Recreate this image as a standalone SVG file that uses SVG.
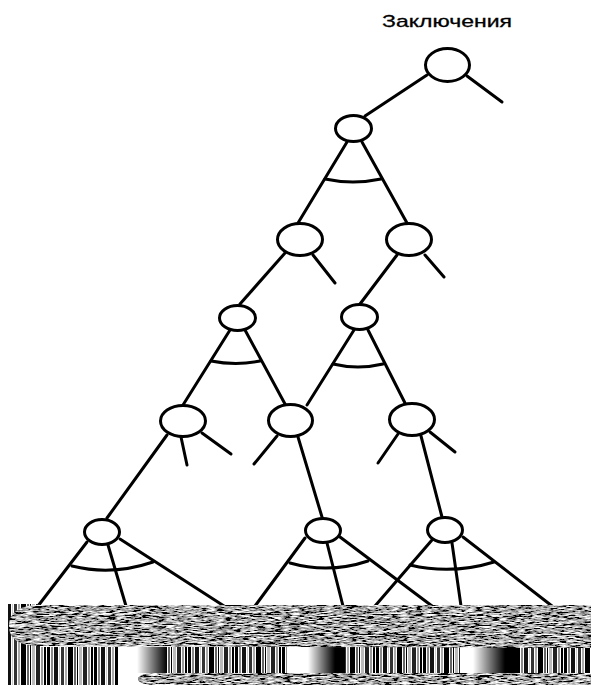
<svg xmlns="http://www.w3.org/2000/svg" width="591" height="685" viewBox="0 0 591 685">
<style>
.n{fill:#fff;stroke:#000;stroke-width:3}
.c line,.c path{stroke:#000;stroke-width:3;fill:none;stroke-linecap:round}
.t{font-family:"Liberation Sans",Arial,sans-serif;font-size:17px;fill:#000;stroke:#000;stroke-width:0.3}
</style>
<defs>
<filter id="noise" x="0" y="0" width="100%" height="100%" filterUnits="objectBoundingBox">
<feTurbulence type="fractalNoise" baseFrequency="0.12 1.1" numOctaves="3" seed="5" result="t"/>
<feColorMatrix in="t" type="matrix" values="0.33 0.33 0.33 0 0 0.33 0.33 0.33 0 0 0.33 0.33 0.33 0 0 0 0 0 0 1" result="g"/>
<feComponentTransfer in="g" result="k">
<feFuncR type="linear" slope="5" intercept="-2.1"/>
<feFuncG type="linear" slope="5" intercept="-2.1"/>
<feFuncB type="linear" slope="5" intercept="-2.1"/>
</feComponentTransfer>
<feComposite in="k" in2="SourceGraphic" operator="in"/>
</filter>
<pattern id="bars" patternUnits="userSpaceOnUse" width="47" height="40">
<rect width="47" height="40" fill="#fff"/>
<rect x="0" width="3" height="40" fill="#000"/>
<rect x="4" width="2" height="40" fill="#888"/>
<rect x="7" width="4" height="40" fill="#111"/>
<rect x="12" width="1" height="40" fill="#ccc"/>
<rect x="14" width="3" height="40" fill="#333"/>
<rect x="18" width="2" height="40" fill="#aaa"/>
<rect x="21" width="5" height="40" fill="#000"/>
<rect x="27" width="2" height="40" fill="#666"/>
<rect x="30" width="1" height="40" fill="#000"/>
<rect x="32" width="3" height="40" fill="#bbb"/>
<rect x="36" width="4" height="40" fill="#222"/>
<rect x="41" width="2" height="40" fill="#999"/>
<rect x="44" width="2" height="40" fill="#000"/>
</pattern>
<linearGradient id="wb" x1="0" x2="1" y1="0" y2="0">
<stop offset="0" stop-color="#fff"/>
<stop offset="1" stop-color="#000"/>
</linearGradient>
</defs>
<rect width="591" height="685" fill="#fff"/>
<text class="t" x="382" y="27" textLength="130" lengthAdjust="spacingAndGlyphs">Заключения</text>
<g class="c" id="connectors">
<line x1="427" y1="75" x2="365" y2="116"/>
<line x1="467" y1="76" x2="502" y2="102"/>
<line x1="347" y1="142" x2="298" y2="223"/>
<line x1="362" y1="142" x2="407" y2="223"/>
<path d="M325,179 Q353,185 381,179"/>
<line x1="285" y1="253" x2="240" y2="304"/>
<line x1="313" y1="255" x2="335" y2="283"/>
<line x1="397" y1="255" x2="360" y2="304"/>
<line x1="425" y1="255" x2="444" y2="277"/>
<line x1="230" y1="330" x2="183" y2="405"/>
<line x1="245" y1="330" x2="285" y2="404"/>
<path d="M211,361 Q236,366 260,361"/>
<line x1="354" y1="330" x2="307" y2="405"/>
<line x1="368" y1="330" x2="405" y2="403"/>
<path d="M333,364 Q358,370 383,364"/>
<line x1="167" y1="435" x2="107" y2="518"/>
<line x1="181" y1="437" x2="187" y2="465"/>
<line x1="202" y1="433" x2="231" y2="454"/>
<line x1="277" y1="436" x2="254" y2="464"/>
<line x1="298" y1="437" x2="322" y2="517"/>
<line x1="398" y1="434" x2="378" y2="463"/>
<line x1="421" y1="436" x2="442" y2="517"/>
<line x1="430" y1="432" x2="455" y2="452"/>
<line x1="87" y1="542" x2="38" y2="606"/>
<line x1="108" y1="545" x2="126" y2="606"/>
<line x1="120" y1="539" x2="224" y2="606"/>
<path d="M72,566 Q112,576 153,562"/>
<line x1="305" y1="538" x2="255" y2="606"/>
<line x1="327" y1="543" x2="343" y2="606"/>
<line x1="340" y1="537" x2="432" y2="606"/>
<path d="M290,563 Q329,574 368,561"/>
<line x1="432" y1="540" x2="375" y2="606"/>
<line x1="452" y1="543" x2="461" y2="606"/>
<line x1="463" y1="537" x2="552" y2="606"/>
<path d="M410,565 Q452,575 494,562"/>
</g>
<g id="n1"><ellipse class="n" cx="447.5" cy="65" rx="22" ry="16.5"/></g>
<g id="n2"><ellipse class="n" cx="353.5" cy="128.5" rx="18" ry="13"/></g>
<g id="n3a"><ellipse class="n" cx="300" cy="239.5" rx="22.5" ry="16"/></g>
<g id="n3b"><ellipse class="n" cx="409" cy="239.5" rx="22.5" ry="16"/></g>
<g id="n4a"><ellipse class="n" cx="237.5" cy="318" rx="18" ry="12.5"/></g>
<g id="n4b"><ellipse class="n" cx="359.5" cy="317" rx="18" ry="12.5"/></g>
<g id="n5a"><ellipse class="n" cx="183" cy="421" rx="22.5" ry="15.5"/></g>
<g id="n5b"><ellipse class="n" cx="290.5" cy="420.5" rx="22" ry="16"/></g>
<g id="n5c"><ellipse class="n" cx="412" cy="419.5" rx="22.5" ry="16"/></g>
<g id="n6a"><ellipse class="n" cx="102" cy="532" rx="17.5" ry="12.5"/></g>
<g id="n6b"><ellipse class="n" cx="323" cy="530.5" rx="17.5" ry="12"/></g>
<g id="n6c"><ellipse class="n" cx="445" cy="530" rx="17.5" ry="12.5"/></g>
<g id="strip">
<rect x="8" y="604" width="32" height="44" fill="url(#bars)"/>
<rect x="8" y="647" width="110" height="38" fill="url(#bars)"/>
<rect x="137" y="647" width="30" height="26" fill="url(#wb)"/>
<rect x="167" y="647" width="120" height="26" fill="url(#bars)"/>
<rect x="308" y="647" width="27" height="26" fill="url(#wb)"/>
<rect x="335" y="647" width="10" height="26" fill="#000"/>
<rect x="345" y="647" width="115" height="26" fill="url(#bars)"/>
<rect x="473" y="647" width="32" height="26" fill="url(#wb)"/>
<rect x="505" y="647" width="15" height="26" fill="#000"/>
<rect x="520" y="647" width="71" height="26" fill="url(#bars)"/>
<path d="M40,605 L591,605 L591,648 L40,646 Q9,646 9,626 Q9,605 40,605 Z" fill="#777" filter="url(#noise)"/>
<path d="M160,673 L591,673 L591,685 L160,685 Q138,685 138,679 Q138,673 160,673 Z" fill="#777" filter="url(#noise)"/>
</g>
</svg>
